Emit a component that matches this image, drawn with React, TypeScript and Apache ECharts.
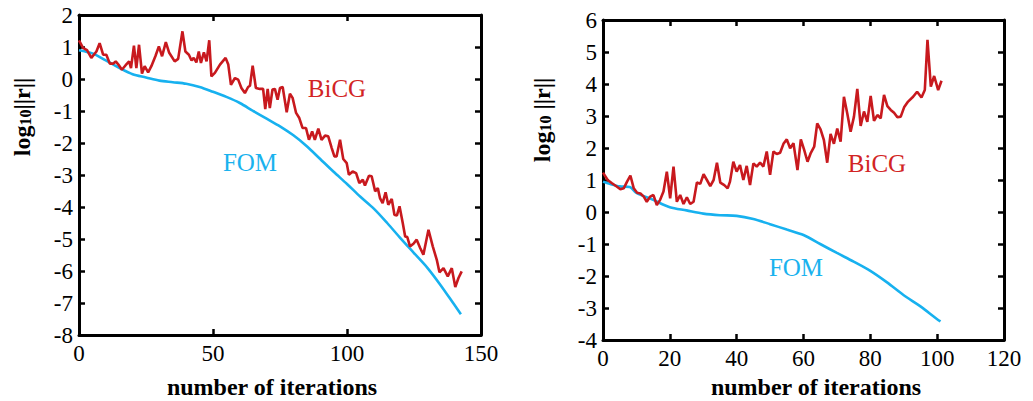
import React, { useEffect, useRef } from "react";
import * as echarts from "echarts";

// ---------- data ----------
const LEFT_BICG_X = [0,1.5,3,4.6,6.5,7.7,9,10.2,11.5,12.7,13.7,14.7,16,17.4,18.7,19.4,20.5,21.4,22.4,23.5,24.5,25.8,27,28.5,29.8,31,32.4,33.6,35.7,37,38.6,39.7,41,42,42.8,43.8,44.7,45.5,46.6,47.6,48.6,49.4,50.7,52.6,54.7,55.7,56.7,58.2,59.4,60.6,61.9,63.1,63.8,64.8,66,67.5,68.7,69.5,70.4,71.2,72.2,73.1,74.1,75,76,77.5,78.7,79.7,81,82.2,83.4,84.7,85.8,87,88,89.3,90.5,91.8,93,94.3,95.3,96.1,97.4,98.6,99.9,100.7,102.1,103.4,104.6,105.9,106.7,108.2,109.2,110.5,111.5,112.3,113.3,114.4,115.4,116.7,117.7,118.6,119.6,120.8,121.7,122.5,123.5,124.8,126,127.3,128.5,130.4,132,133.5,134.5,136,137.6,139.1,140.4,141.6,142.8];
const LEFT_BICG_Y = [1.21,0.97,0.9,0.66,0.86,1.12,0.76,0.76,0.48,0.48,0.55,0.45,0.29,0.43,0.55,0.34,1.04,0.34,1.07,0.17,0.4,0.21,0.4,0.71,1.02,0.71,1.15,0.83,0.55,0.63,1.49,0.86,0.76,0.58,0.66,0.52,0.86,0.5,0.83,0.55,1.21,0.08,0.19,0.45,0.66,0.45,-0.18,0.03,-0.02,-0.28,-0.44,-0.25,-0.21,0.42,-0.28,-0.31,-0.31,-0.94,-0.31,-0.91,-0.33,-0.31,-0.65,-0.28,-0.25,-1.04,-0.46,-0.59,-1.06,-1.22,-1.53,-1.53,-1.9,-1.64,-1.9,-1.55,-1.9,-1.77,-1.79,-2.16,-2.42,-2.42,-1.9,-2.5,-2.63,-2.99,-2.89,-2.94,-3.25,-3.15,-3.33,-3.02,-3.04,-3.51,-3.41,-3.72,-3.88,-3.54,-3.93,-3.75,-4.24,-4.27,-3.98,-4.5,-4.92,-4.94,-5.23,-5.15,-5.02,-5.28,-5.49,-4.71,-5.23,-5.65,-6.04,-5.91,-6.17,-5.91,-6.5,-6.22,-6.01];

const LEFT_FOM_X = [0,5,10,15,20,25,30,35,40,45,50,55,60,65,70,75,80,85,90,95,100,105,110,115,120,125,130,135,140,142.5];
const LEFT_FOM_Y = [0.9,0.8,0.58,0.35,0.15,0.05,-0.05,-0.1,-0.15,-0.25,-0.4,-0.56,-0.75,-1.0,-1.24,-1.48,-1.76,-2.1,-2.5,-2.9,-3.28,-3.68,-4.05,-4.5,-4.98,-5.44,-5.9,-6.45,-7.05,-7.35];

const RIGHT_BICG_X = [0,1.4,2.7,4.2,5.2,6.2,7.2,8.2,9.2,10.2,11.2,12.2,13.1,14.1,15.1,16.1,17.1,18.1,19.1,20.1,21.1,22.1,23.1,24.1,25.1,26.1,27.1,28.1,29.1,30.1,31.1,32.1,33.1,34.1,35.1,36.3,37.3,38,39,40,41,42,43,44,45,46,47,48,49,50,51,52,53,54,55,56,57,58.2,59.2,60.2,61.2,62.2,63.2,64.1,65.1,66.1,67.1,68.1,69.1,70.1,71.1,72.1,73.1,74.1,75.1,76.1,77.1,78.1,79.1,80.1,81.1,82.1,83.1,84.1,85.1,86.1,87.1,88.1,89.1,90.1,91.3,92.8,94,95.3,96.3,97.1,98.1,99.1,100.3,101.3];
const RIGHT_BICG_Y = [1.23,1.0,0.9,0.79,0.71,0.74,0.95,1.14,0.74,0.6,0.58,0.48,0.32,0.48,0.53,0.22,0.38,0.64,1.26,0.43,1.42,0.32,0.53,0.25,0.46,0.25,0.32,0.92,0.88,1.18,1.0,0.81,1.0,1.54,0.92,0.84,0.74,0.95,1.57,1.26,1.47,1.0,1.44,0.84,1.52,1.42,1.54,1.42,1.89,1.16,1.89,1.81,1.85,2.13,2.27,1.99,2.15,1.31,2.27,1.94,1.57,1.85,2.04,2.77,2.58,2.25,1.54,2.44,2.13,2.61,2.2,3.6,3.08,2.51,2.98,3.85,2.69,3.14,2.82,3.63,2.85,3.03,2.93,3.66,3.31,3.19,3.1,2.96,2.98,3.27,3.45,3.6,3.76,3.58,3.81,5.38,3.92,4.25,3.81,4.1];

const RIGHT_FOM_X = [0,2,5,8,10,15,20,25,30,35,40,45,50,55,60,65,70,75,80,85,90,95,100,101];
const RIGHT_FOM_Y = [0.95,0.88,0.8,0.78,0.6,0.38,0.15,0.05,-0.05,-0.1,-0.12,-0.22,-0.38,-0.55,-0.72,-1.0,-1.28,-1.55,-1.84,-2.2,-2.6,-2.95,-3.35,-3.42];

const LEFT_X_RANGE = [0, 150, 50];
const LEFT_Y_RANGE = [-8, 2, 1];
const RIGHT_X_RANGE = [0, 120, 20];
const RIGHT_Y_RANGE = [-4, 6, 1];

const X_TITLE = "number of iterations";
const SERIES_NAMES = ["BiCG", "FOM"];

// ---------- styles ----------
const FONT = '"Liberation Serif", "Times New Roman", serif';
const RED = "#c8191e";
const BLUE = "#17b1ef";

const zip = (xs: number[], ys: number[]) => xs.map((x, i) => [x, ys[i]]);

function axisBase(range: number[], gridIndex: number, position: string, showLabel: boolean, isX: boolean) {
  return {
    type: "value",
    gridIndex,
    position,
    min: range[0],
    max: range[1],
    interval: range[2],
    axisLine: { show: true, onZero: false, lineStyle: { color: "#000", width: 3 } },
    axisTick: { show: true, inside: true, length: 6, lineStyle: { color: "#000", width: 2.5 } },
    axisLabel: {
      show: showLabel,
      color: "#000",
      fontFamily: FONT,
      fontSize: 23,
      margin: isX ? 7 : 6,
    },
    splitLine: { show: false },
  };
}

function lineSeries(name: string, data: number[][], color: string, idx: number, smooth: boolean) {
  return {
    type: "line",
    name,
    xAxisIndex: idx * 2,
    yAxisIndex: idx * 2,
    data,
    showSymbol: false,
    symbol: "none",
    smooth: smooth ? 0.3 : false,
    lineStyle: { color, width: 2.6 },
    z: color === RED ? 3 : 2,
  };
}

function ylabel(x: number, y: number, sep: string) {
  return {
    type: "text",
    x,
    y,
    rotation: Math.PI / 2,
    style: {
      text: `{a|log}{b|10}{a|${sep}||r||}`,
      align: "center",
      verticalAlign: "middle",
      fill: "#000",
      rich: {
        a: { fontFamily: FONT, fontWeight: "bold", fontSize: 24, fill: "#000", verticalAlign: "bottom" },
        b: { fontFamily: FONT, fontWeight: "bold", fontSize: 16, fill: "#000", verticalAlign: "bottom", padding: [0, 0, 1, 0] },
      },
    },
  };
}

function xlabel(x: number, y: number) {
  return {
    type: "text",
    x,
    y,
    style: {
      text: X_TITLE,
      align: "center",
      verticalAlign: "middle",
      fontFamily: FONT,
      fontWeight: "bold",
      fontSize: 24,
      fill: "#000",
    },
  };
}

function seriesLabel(text: string, x: number, y: number, color: string) {
  return {
    type: "text",
    x,
    y,
    style: {
      text,
      align: "center",
      verticalAlign: "middle",
      fontFamily: FONT,
      fontSize: 25,
      fill: color,
    },
  };
}

export default function App() {
  const ref = useRef<HTMLDivElement>(null);

  useEffect(() => {
    document.body.style.margin = "0";
    if (!ref.current) return;
    const chart = echarts.init(ref.current, null, { renderer: "svg" });
    const option = {
      animation: false,
      backgroundColor: "#fff",
      grid: [
        { left: 79, top: 15, width: 402, height: 320 },
        { left: 603, top: 20, width: 401, height: 320 },
      ],
      xAxis: [
        axisBase(LEFT_X_RANGE, 0, "bottom", true, true),
        axisBase(LEFT_X_RANGE, 0, "top", false, true),
        axisBase(RIGHT_X_RANGE, 1, "bottom", true, true),
        axisBase(RIGHT_X_RANGE, 1, "top", false, true),
      ],
      yAxis: [
        axisBase(LEFT_Y_RANGE, 0, "left", true, false),
        axisBase(LEFT_Y_RANGE, 0, "right", false, false),
        axisBase(RIGHT_Y_RANGE, 1, "left", true, false),
        axisBase(RIGHT_Y_RANGE, 1, "right", false, false),
      ],
      series: [
        lineSeries(SERIES_NAMES[1], zip(LEFT_FOM_X, LEFT_FOM_Y), BLUE, 0, true),
        lineSeries(SERIES_NAMES[0], zip(LEFT_BICG_X, LEFT_BICG_Y), RED, 0, false),
        lineSeries(SERIES_NAMES[1], zip(RIGHT_FOM_X, RIGHT_FOM_Y), BLUE, 1, true),
        lineSeries(SERIES_NAMES[0], zip(RIGHT_BICG_X, RIGHT_BICG_Y), RED, 1, false),
      ],
      graphic: [
        ylabel(22, 117, ""),
        ylabel(542, 120, " "),
        xlabel(272, 387),
        xlabel(816, 387),
        seriesLabel(SERIES_NAMES[0], 337, 88, "#d22424"),
        seriesLabel(SERIES_NAMES[1], 250, 162, "#1ab2ee"),
        seriesLabel(SERIES_NAMES[0], 877, 163, "#d22424"),
        seriesLabel(SERIES_NAMES[1], 796, 267, "#1ab2ee"),
      ],
    };
    chart.setOption(option as any);
    return () => chart.dispose();
  }, []);

  return <div ref={ref} style={{ width: 1033, height: 401 }} />;
}
